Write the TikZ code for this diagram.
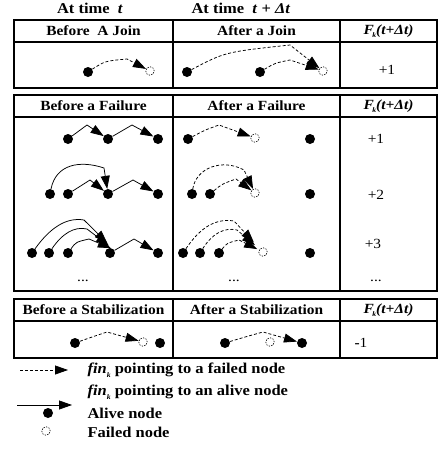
\documentclass[tikz,border=0pt]{standalone}
\usepackage{fontspec}
\setmainfont{Liberation Serif}[FakeStretch=1.1]
\usetikzlibrary{arrows.meta}
\newcommand{\Fk}{\textbf{\textit{F\kern-1.5pt\raisebox{-3.5pt}{\fontsize{7}{7}\selectfont k}(t+Δt)}}}
\newcommand{\fink}{\textit{fin\raisebox{-3.5pt}{\fontsize{7}{7}\selectfont k}}}
\begin{document}
\begin{tikzpicture}[x=1pt,y=-1pt,
  tbl/.style={line width=1.2pt},
  alive/.style={circle,fill=black,inner sep=0pt,minimum size=10pt},
  failed/.style={circle,draw,line width=0.6pt,dash pattern=on 1.3pt off 1.3pt,inner sep=0pt,minimum size=8.5pt},
  darr/.style={-{Triangle[length=13pt,width=9pt]},line width=0.75pt,dash pattern=on 3pt off 2pt},
  sarr/.style={-{Triangle[length=13pt,width=9pt]},line width=0.75pt},
  hdr/.style={font=\fontsize{14}{16}\selectfont\bfseries},
  top/.style={font=\fontsize{15}{17}\selectfont\bfseries},
  val/.style={font=\fontsize{14}{16}\selectfont},
  lgd/.style={font=\fontsize{15}{17}\selectfont\bfseries,anchor=west}]
\useasboundingbox (0,0) rectangle (438,450);

% top labels
\node[top] (tl1) at (90,8) {At time\ \ \textit{t}};
\node[top] (tl2) at (241,8) {At time\ \ \textit{t} + \textit{Δt}};

% ---------- table 1 ----------
\draw[tbl] (14,20) rectangle (437,88) (14,42) -- (437,42) (173,20) -- (173,88) (340,20) -- (340,88);
\node[hdr] (t1h1) at (93.5,31) {Before\ \ A Join};
\node[hdr] (t1h2) at (256.5,31) {After a Join};
\node[hdr] (t1h3) at (388.5,31) {\Fk};
\node[alive] (j1) at (88,72) {};
\node[failed] (jf) at (150,71) {};
\draw[darr] (j1) .. controls (105,61) .. (127,59) -- (jf);
\node[alive] (ja2) at (187,72) {};
\node[alive] (ja3) at (260,72) {};
\node[failed] (jf2) at (323,71) {};
\draw[darr] (ja2) .. controls (225,52) .. (290,45) -- (jf2);
\draw[darr] (ja3) .. controls (275,63) .. (290,60) -- (jf2);
\node[val] (v1) at (387,70) {+1};

% ---------- table 2 ----------
\draw[tbl] (14,95) rectangle (437,291) (14,117) -- (437,117) (173,95) -- (173,291) (340,95) -- (340,291);
\node[hdr] (t2h1) at (93.5,106) {Before a Failure};
\node[hdr] (t2h2) at (256.5,106) {After a Failure};
\node[hdr] (t2h3) at (388.5,106) {\Fk};
% row 1
\node[alive] (b1) at (68,139) {};
\node[alive] (b2) at (108,139) {};
\node[alive] (b3) at (158,139) {};
\draw[sarr] (b1) -- (87,125) -- (b2);
\draw[sarr] (b2) -- (132,125) -- (b3);
\node[alive] (c1) at (188,139) {};
\node[failed] (cf) at (255,138) {};
\node[alive] (c2) at (310,139) {};
\draw[darr] (c1) .. controls (205,130) .. (219,125) -- (cf);
\node[val] (v2) at (376,139) {+1};
% row 2
\node[alive] (d1) at (50,194) {};
\node[alive] (d2) at (68,194) {};
\node[alive] (d3) at (108,194) {};
\node[alive] (d4) at (158,194) {};
\draw[sarr] (d1) .. controls (56,164) and (80,160) .. (104,168) -- (d3);
\draw[sarr] (d2) -- (90,180) -- (d3);
\draw[sarr] (d3) -- (133,180) -- (d4);
\node[alive] (e1) at (192,194) {};
\node[alive] (e2) at (210,194) {};
\node[failed] (ef) at (255,193) {};
\node[alive] (e3) at (310,194) {};
\draw[darr] (e1) .. controls (196,168) and (222,158) .. (244,170) -- (ef);
\draw[darr] (e2) .. controls (222,184) .. (236,179) -- (ef);
\node[val] (v3) at (376,195) {+2};
% row 3
\node[alive] (g1) at (32,253) {};
\node[alive] (g2) at (49,253) {};
\node[alive] (g3) at (68,253) {};
\node[alive] (g4) at (110,253) {};
\node[alive] (g5) at (158,253) {};
\draw[sarr,shorten >=9pt] (g1) .. controls (50,228) and (66,217) .. (84,220) -- (g4.north east);
\draw[sarr,shorten >=6pt] (g2) .. controls (62,234) and (74,226) .. (87,229) -- (g4.north east);
\draw[sarr,shorten >=3pt] (g3) .. controls (76,242) .. (89,239) -- (g4.north east);
\draw[sarr] (g4) -- (134,239) -- (g5);
\node[alive] (h1) at (183,253) {};
\node[alive] (h2) at (200,253) {};
\node[alive] (h3) at (219,253) {};
\node[failed] (hf) at (263,252) {};
\node[alive] (h4) at (310,253) {};
\draw[darr,shorten >=9pt] (h1) .. controls (200,228) and (215,218) .. (234,221) -- (hf);
\draw[darr,shorten >=6pt] (h2) .. controls (212,234) and (224,227) .. (237,230) -- (hf);
\draw[darr,shorten >=2pt] (h3) .. controls (227,243) .. (239,240) -- (hf);
\node[val] (v4) at (373,244) {+3};
\node[val] (dd1) at (83,281) {...};
\node[val] (dd2) at (234,281) {...};
\node[val] (dd3) at (376,281) {...};

% ---------- table 3 ----------
\draw[tbl] (14,299) rectangle (437,358) (14,321) -- (437,321) (173,299) -- (173,358) (340,299) -- (340,358);
\node[hdr] (t3h1) at (93.5,310) {Before a Stabilization};
\node[hdr] (t3h2) at (256.5,310) {After a Stabilization};
\node[hdr] (t3h3) at (388.5,310) {\Fk};
\node[alive] (k1) at (75,343) {};
\node[failed] (kf) at (143,342) {};
\node[alive] (k2) at (160,343) {};
\draw[darr] (k1) .. controls (92,337) .. (107,332) -- (kf);
\node[alive] (m1) at (225,343) {};
\node[failed] (mf) at (270,342) {};
\node[alive] (m2) at (302,343) {};
\draw[darr] (m1) .. controls (245,337) .. (263,332) -- (m2);
\node[val] (v5) at (361,343) {\textbf{-}1};

% ---------- legend ----------
\coordinate (la1) at (20,370);
\coordinate (la2) at (68,370);
\draw[darr] (la1) -- (la2);
\node[lgd] (lt1) at (84,370) {\fink\ pointing to a failed node};
\node[lgd] (lt2) at (84,392) {\fink\ pointing to an alive node};
\coordinate (lb1) at (17,405);
\coordinate (lb2) at (72,405);
\draw[sarr] (lb1) -- (lb2);
\node[alive] (la) at (48,413) {};
\node[lgd] (lt3) at (84,413) {Alive node};
\node[failed] (lf) at (46,431) {};
\node[lgd] (lt4) at (84,432) {Failed node};
\end{tikzpicture}
\end{document}
